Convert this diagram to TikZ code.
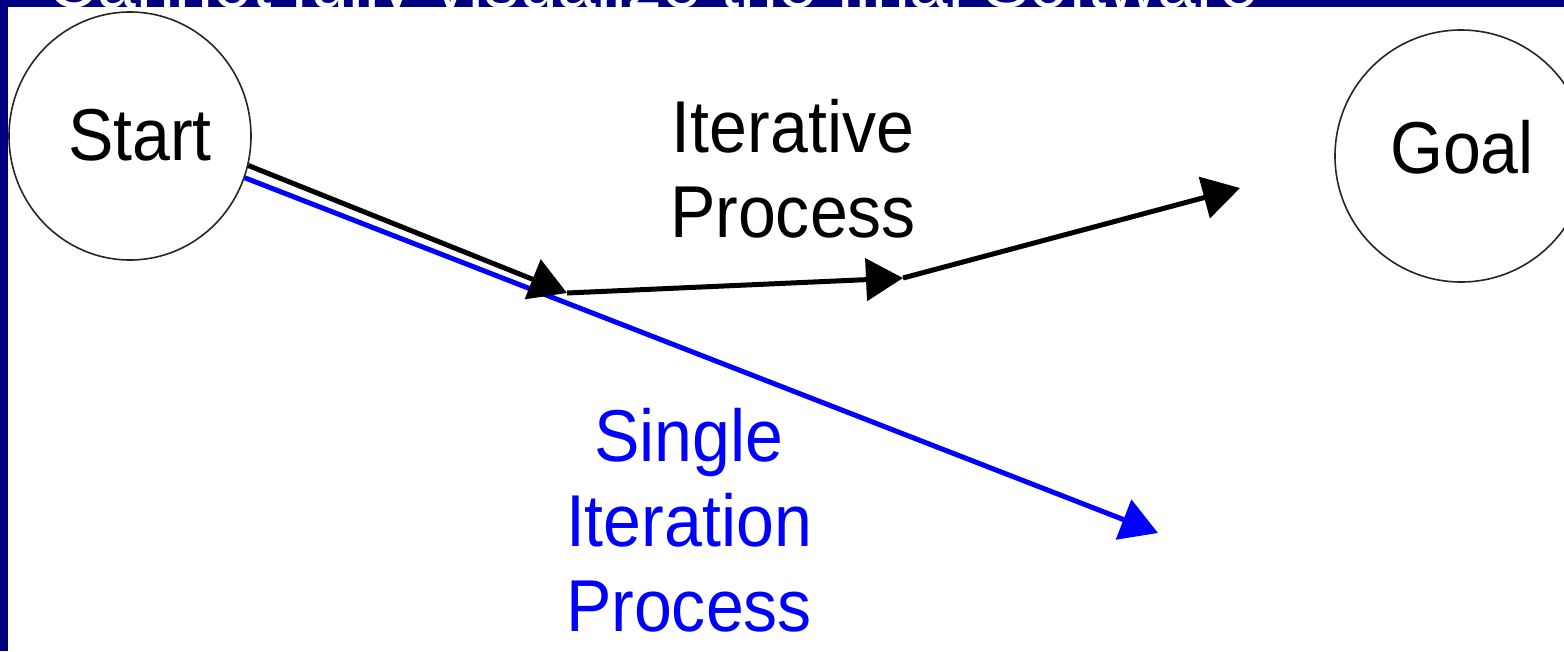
\documentclass[tikz,border=0pt]{standalone}
\usepackage{fontspec}
\setmainfont{Liberation Sans}
\newfontfamily\diagfont[FakeStretch=0.926]{Liberation Sans}
\usetikzlibrary{arrows.meta,shapes.geometric}
\definecolor{navy}{RGB}{0,0,128}
\definecolor{pureblue}{RGB}{0,0,255}
\begin{document}
\begin{tikzpicture}[x=1pt,y=-1pt,
  circ/.style={ellipse,draw=black!85,line width=1.6pt,inner sep=0pt},
  lbl/.style={font=\diagfont\fontsize{73.5}{85}\selectfont,align=center,inner sep=0pt},
  blk/.style={black,line width=5pt,-{Triangle[length=37pt,width=42pt]}},
  blu/.style={pureblue,line width=5pt,-{Triangle[length=37pt,width=42pt]}}]
\useasboundingbox (0,0) rectangle (1564,651);
\clip (0,0) rectangle (1564,651);
\fill[white] (0,0) rectangle (1564,651);
\fill[navy] (0,0) rectangle (1564,7);
\fill[navy] (0,0) rectangle (8,651);
\node[anchor=base west, text=white, font=\fontsize{69.6}{80}\selectfont, inner sep=0pt] (title) at (47,7) {Cannot fully visualize the final Software};
% circles
\node[circ, minimum width=242pt, minimum height=248pt] (start) at (130,136) {};
\node[circ, minimum width=252pt, minimum height=252pt] (goal) at (1461,156) {};
\node[lbl, anchor=base] (startlbl) at (140,160) {Start};
\node[lbl, anchor=base] (goallbl) at (1462,173) {Goal};
% path points
\coordinate (m1) at (567,293);
\coordinate (m2) at (903,278);
\coordinate (m3) at (1240,188);
\coordinate (b1) at (1158,533);
% connectors
\draw[blu] (start.-20) -- (b1);
\draw[blk] (start.-14.6) -- (m1);
\draw[blk] (m1) -- (m2);
\draw[blk] (m2) -- (m3);
% labels
\node[lbl, anchor=base] (iter) at (793,237) {Iterative\\Process};
\node[lbl, anchor=base, text=pureblue] (single) at (689,631) {Single\\Iteration\\Process};
\end{tikzpicture}
\end{document}
